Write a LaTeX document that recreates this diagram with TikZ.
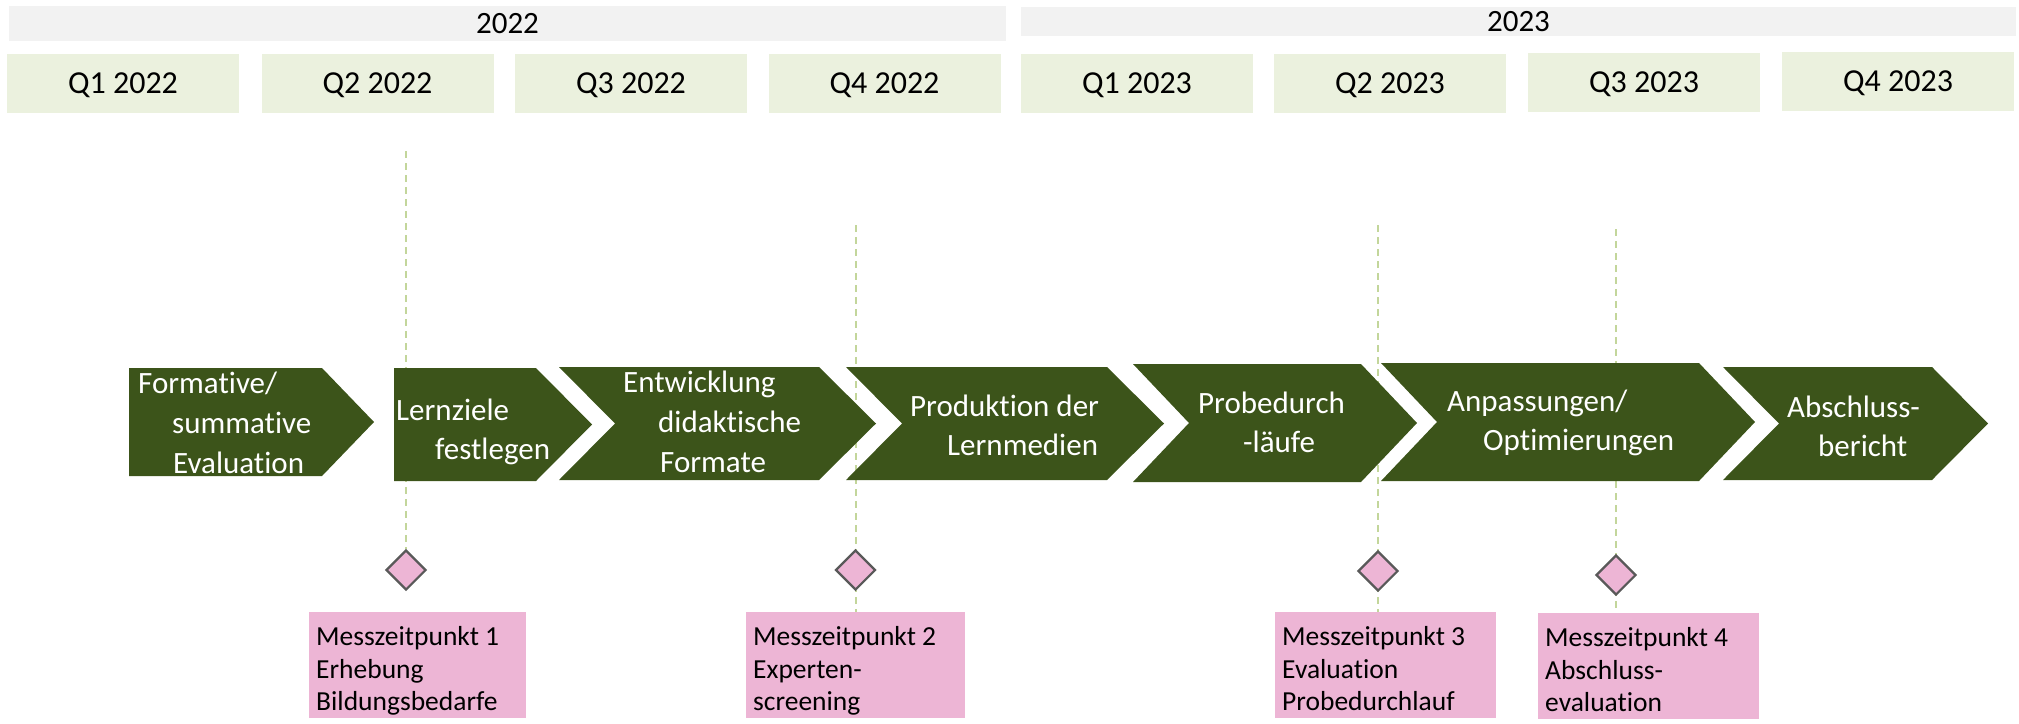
\documentclass[tikz,border=0pt]{standalone}
\usepackage{fontspec}
\setmainfont{Carlito}[Ligatures={NoCommon}]
\usetikzlibrary{shapes.geometric}
\definecolor{yearbg}{HTML}{F2F2F2}
\definecolor{qbg}{HTML}{EBF1DE}
\definecolor{chevgreen}{HTML}{3C541A}
\definecolor{pinkbg}{HTML}{EDB5D5}
\definecolor{diagray}{HTML}{595959}
\definecolor{guidegreen}{HTML}{C3D69B}
\pgfdeclarelayer{background}
\pgfsetlayers{background,main}
\begin{document}
\begin{tikzpicture}[x=1pt,y=-1pt,
  yearbar/.style={rectangle, fill=yearbg, inner sep=0pt, font=\fontsize{31}{37}\selectfont, text height=19.6pt, text depth=0pt},
  qbox/.style={rectangle, fill=qbg, inner sep=0pt, minimum width=232pt, minimum height=59pt, font=\fontsize{32}{38}\selectfont, text height=20.6pt, text depth=0pt},
  chev/.style={fill=chevgreen},
  chevtext/.style={text=white, font=\fontsize{31}{40}\selectfont, anchor=base west, inner sep=0pt},
  mtext/.style={text=black, font=\fontsize{27.5}{33}\selectfont, anchor=base west, inner sep=0pt},
  milestone/.style={diamond, draw=diagray, line width=2.2pt, fill=pinkbg, minimum width=40pt, minimum height=40pt, inner sep=0pt},
  mbox/.style={rectangle, fill=pinkbg, inner sep=0pt, minimum width=220pt, minimum height=106pt},
  guide/.style={draw=guidegreen, line width=2pt, dash pattern=on 7pt off 5pt}]
\useasboundingbox (0,0) rectangle (2019,723);

% year headers
\node[yearbar, minimum width=997pt, minimum height=35pt] (y22) at (507.5,23.5) {2022};
\node[yearbar, minimum width=995pt, minimum height=29pt] (y23) at (1518.5,21.5) {2023};

% quarters
\node[qbox] (q1a) at (123,83.5) {Q1 2022};
\node[qbox] (q2a) at (377.5,83.5) {Q2 2022};
\node[qbox] (q3a) at (631,83.5) {Q3 2022};
\node[qbox] (q4a) at (884.5,83.5) {Q4 2022};
\node[qbox] (q1b) at (1137,83.5) {Q1 2023};
\node[qbox] (q2b) at (1390,83.5) {Q2 2023};
\node[qbox] (q3b) at (1644,82.5) {Q3 2023};
\node[qbox] (q4b) at (1898,81.5) {Q4 2023};

% chevrons
\path[chev] (129,368) -- (322,368) -- (374,422) -- (322,476) -- (129,476) -- cycle;
\path[chev] (394,368) -- (536,368) -- (592,424.5) -- (536,481) -- (394,481) -- cycle;
\path[chev] (559,367) -- (819,367) -- (876,423.5) -- (819,480) -- (559,480) -- (615,423.5) -- cycle;
\path[chev] (846,367) -- (1107,367) -- (1164,423.5) -- (1107,480) -- (846,480) -- (902,423.5) -- cycle;
\path[chev] (1133,364) -- (1361,364) -- (1417,423) -- (1361,482) -- (1133,482) -- (1189,423) -- cycle;
\path[chev] (1381,363) -- (1699,363) -- (1755,422) -- (1699,481) -- (1381,481) -- (1437,422) -- cycle;
\path[chev] (1723,367) -- (1932,367) -- (1988,423.5) -- (1932,480) -- (1723,480) -- (1779,423.5) -- cycle;

% chevron texts
\node[chevtext] (c1a) at (138,393) {Formative/};
\node[chevtext] (c1b) at (172,433) {summative};
\node[chevtext] (c1c) at (173,473) {Evaluation};
\node[chevtext] (c2a) at (396,420) {Lernziele};
\node[chevtext] (c2b) at (435,459) {festlegen};
\node[chevtext] (c3a) at (623,392) {Entwicklung};
\node[chevtext] (c3b) at (658,432) {didaktische};
\node[chevtext] (c3c) at (660,472) {Formate};
\node[chevtext] (c4a) at (910,416) {Produktion der};
\node[chevtext] (c4b) at (947,455) {Lernmedien};
\node[chevtext] (c5a) at (1198,413) {Probedurch};
\node[chevtext] (c5b) at (1243,452) {-läufe};
\node[chevtext] (c6a) at (1447,411) {Anpassungen/};
\node[chevtext] (c6b) at (1483,450) {Optimierungen};
\node[chevtext] (c7a) at (1787,417) {Abschluss-};
\node[chevtext] (c7b) at (1818,456) {bericht};

% guide tops
\coordinate (g1) at (406,151);
\coordinate (g2) at (855.5,225);
\coordinate (g3) at (1378,225);
\coordinate (g4) at (1616,229);

% milestones
\node[milestone] (d1) at (406,570) {};
\node[milestone] (d2) at (855.5,570) {};
\node[milestone] (d3) at (1378,571) {};
\node[milestone] (d4) at (1616,575) {};

% measurement boxes
\node[mbox, minimum width=217pt] (m1) at (417.5,665) {};
\node[mbox, minimum width=219pt] (m2) at (855.5,665) {};
\node[mbox, minimum width=221pt] (m3) at (1385.5,665) {};
\node[mbox, minimum width=221pt] (m4) at (1648.5,666) {};

\node[mtext] (t1a) at (316,645) {Messzeitpunkt 1};
\node[mtext] (t1b) at (316,678) {Erhebung};
\node[mtext] (t1c) at (316,710) {Bildungsbedarfe};
\node[mtext] (t2a) at (753,645) {Messzeitpunkt 2};
\node[mtext] (t2b) at (753,678) {Experten-};
\node[mtext] (t2c) at (753,710) {screening};
\node[mtext] (t3a) at (1282,645) {Messzeitpunkt 3};
\node[mtext] (t3b) at (1282,678) {Evaluation};
\node[mtext] (t3c) at (1282,710) {Probedurchlauf};
\node[mtext] (t4a) at (1545,646) {Messzeitpunkt 4};
\node[mtext] (t4b) at (1545,679) {Abschluss-};
\node[mtext] (t4c) at (1545,711) {evaluation};

\begin{pgfonlayer}{background}
\draw[guide] (g1) -- (d1.north);
\draw[guide] (g2) -- (m2.north);
\draw[guide] (g3) -- (g3 |- m3.north);
\draw[guide] (g4) -- (g4 |- m4.north);
\end{pgfonlayer}
\end{tikzpicture}
\end{document}
